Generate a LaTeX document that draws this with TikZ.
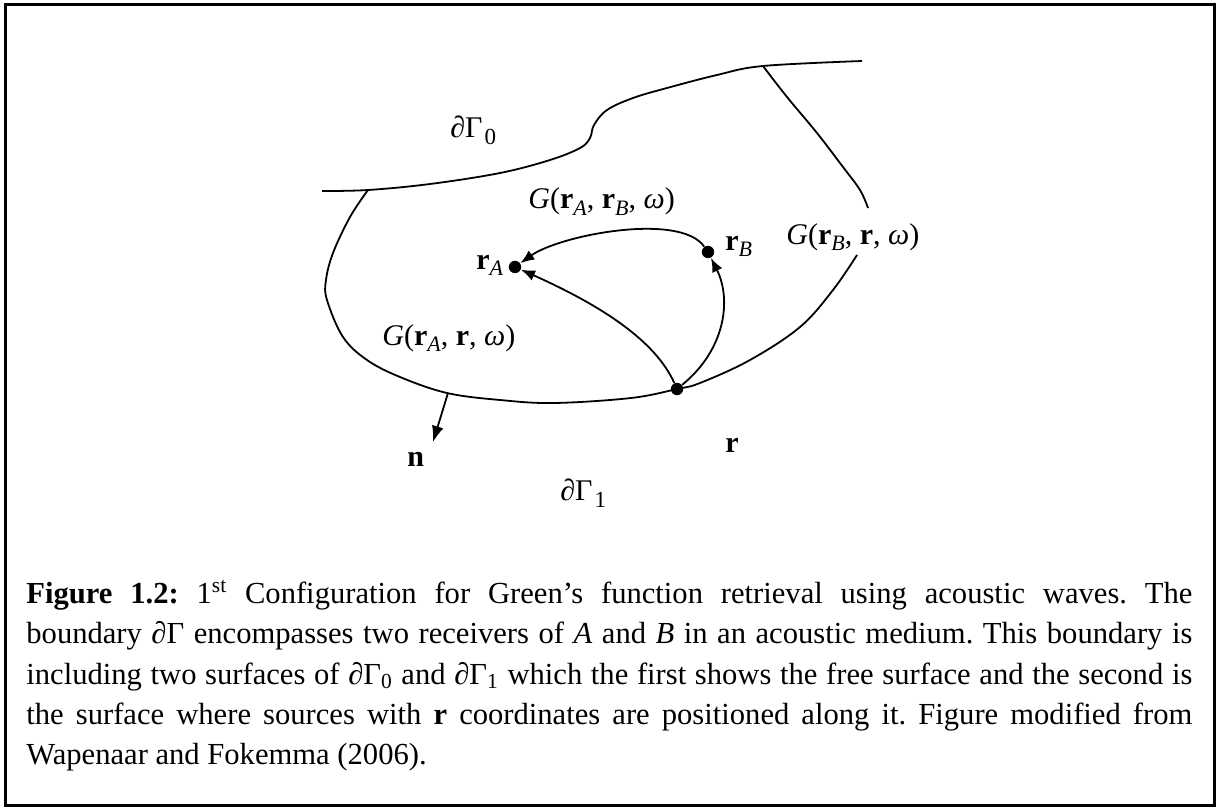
\documentclass[tikz,border=0pt]{standalone}
\usepackage{fontspec}
\setmainfont{Liberation Serif}
\usetikzlibrary{arrows.meta}
\frenchspacing
\newcommand\sbs[1]{\raisebox{-3pt}{\fontsize{11}{12}\selectfont\textit{#1}}}
\newcommand\sbn[1]{\raisebox{-3.5pt}{\fontsize{11.5}{12}\selectfont #1}}
\begin{document}
\begin{tikzpicture}[x=0.5pt,y=-0.5pt,
  curve/.style={line width=0.9pt},
  arr/.style={line width=0.9pt,-{Latex[length=7pt,width=5.5pt]}},
  dot/.style={circle,fill,inner sep=0pt,minimum size=6.2pt},
  lbl/.style={inner sep=0pt,font=\fontsize{15}{17}\selectfont}]
\useasboundingbox (0,0) rectangle (1217,808);
\draw[line width=1.3pt] (5.5,4.5) rectangle (1214.5,805.5);
% free surface
\draw[curve] plot[smooth,tension=0.6] coordinates {(322,191) (368,190) (430,184) (500,173) (550,160) (580,148) (590,138) (594,125) (607,110) (633,98) (667,88) (717,75) (763,66) (862,61)};
% right upper branch
\draw[curve] plot[smooth,tension=0.6] coordinates {(763,66) (787,97) (817,133) (843,167) (860,190) (868,208)};
% lower boundary
\draw[curve] plot[smooth,tension=0.6] coordinates {(368,190) (350,217) (333,253) (326,280) (327,300) (343,337) (367,360) (400,377) (447,393) (500,400) (554,403) (631,398) (677,389) (700,383) (750,360) (800,327) (833,290) (857,255)};
% points
\node[dot] (rA) at (515,267) {};
\node[dot] (rB) at (708,252) {};
\node[dot] (r) at (677,389) {};
% connectors
\draw[arr] (rB) .. controls (680,212) and (560,235) .. (rA);
\draw[arr] (r) .. controls (655,340) and (600,305) .. (rA);
\draw[arr] (r) .. controls (725,350) and (732,300) .. (rB);
\coordinate (nb) at (448,393);
\coordinate (nt) at (433,442);
\draw[arr,-{Latex[length=8pt,width=6pt]}] (nb) -- (nt);
% labels
\node[lbl,anchor=base west] (d0) at (450,138) {∂Γ\kern1pt\sbn{0}};
\node[lbl,anchor=base west] (d1) at (560,500) {∂Γ\kern1pt\sbn{1}};
\node[lbl,anchor=base west] (gab) at (528,209) {\textit{G}(\textbf{r}\sbs{A}, \textbf{r}\sbs{B}, \textit{ω})};
\node[lbl,anchor=base west] (gbr) at (786,244) {\textit{G}(\textbf{r}\sbs{B}, \textbf{r}, \textit{ω})};
\node[lbl,anchor=base west] (gar) at (382,345) {\textit{G}(\textbf{r}\sbs{A}, \textbf{r}, \textit{ω})};
\node[lbl,anchor=base west] (la) at (476,270) {\textbf{r}\sbs{A}};
\node[lbl,anchor=base west] (lb) at (725,250) {\textbf{r}\sbs{B}};
\node[lbl,anchor=base west] (ln) at (407,466) {\textbf{n}};
\node[lbl,anchor=base west] (lr) at (725,452) {\textbf{r}};
% caption
\node[anchor=base west,text width=583pt,inner sep=0pt,align=justify,
  font=\fontsize{15.3}{20.25}\selectfont] (cap) at (26,603)
 {\hyphenpenalty=10000\textbf{Figure 1.2:} 1\textsuperscript{st} Configuration for Green’s function retrieval using acoustic waves. The\linebreak
 boundary ∂Γ encompasses two receivers of \textit{A} and \textit{B} in an acoustic medium. This boundary is\linebreak
 including two surfaces of ∂Γ\textsubscript{0} and ∂Γ\textsubscript{1} which the first shows the free surface and the second is\linebreak
 the surface where sources with \textbf{r} coordinates are positioned along it. Figure modified from\linebreak
 Wapenaar and Fokemma (2006).};
\end{tikzpicture}
\end{document}
